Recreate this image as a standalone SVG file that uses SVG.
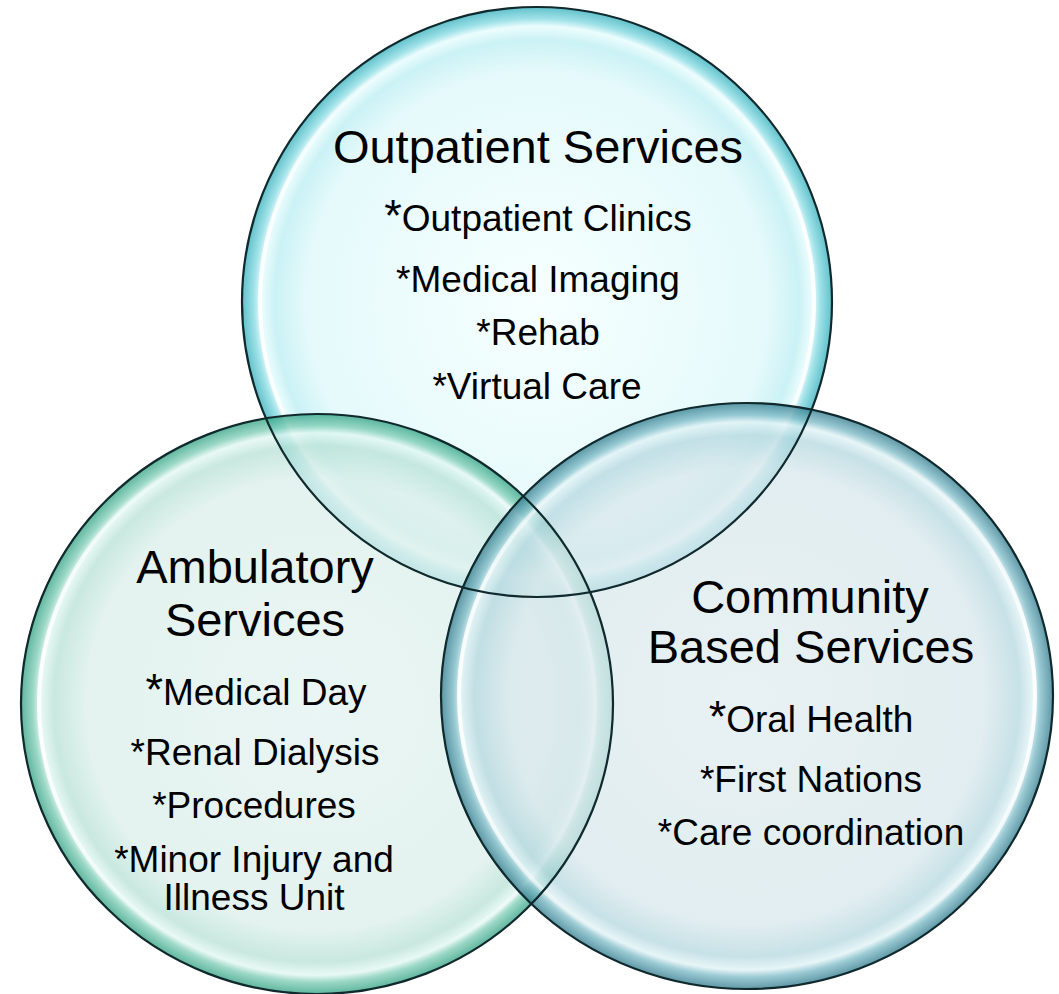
<svg xmlns="http://www.w3.org/2000/svg" width="1059" height="994" viewBox="0 0 1059 994">
  <style>
    text { font-family: "Liberation Sans", Arial, sans-serif; fill: #000; text-anchor: middle; }
    .title { font-size: 47px; }
    .item { font-size: 37px; }
    .big { font-size: 45px; }
    .disc { stroke: none; fill-opacity: 0.78; }
    .rim { fill: none; stroke: #10292d; stroke-width: 2.2; }
    .hl { fill: none; stroke: url(#hl); stroke-width: 4; }
  </style>
  <defs>
    <radialGradient id="gTop" cx="50%" cy="50%" r="50%">
      <stop offset="0" stop-color="#F4FFFF"/>
      <stop offset="0.78" stop-color="#DEF8FA"/>
      <stop offset="0.89" stop-color="#BDEEF2"/>
      <stop offset="0.935" stop-color="#E6FCFD"/>
      <stop offset="0.96" stop-color="#86DAE2"/>
      <stop offset="1" stop-color="#35AFBC"/>
    </radialGradient>
    <radialGradient id="gLeft" cx="50%" cy="50%" r="50%">
      <stop offset="0" stop-color="#E4F3F1"/>
      <stop offset="0.78" stop-color="#DCEFEB"/>
      <stop offset="0.89" stop-color="#BAE2D7"/>
      <stop offset="0.935" stop-color="#E2F7F2"/>
      <stop offset="0.96" stop-color="#80CDB6"/>
      <stop offset="1" stop-color="#33A283"/>
    </radialGradient>
    <radialGradient id="gRight" cx="50%" cy="50%" r="50%">
      <stop offset="0" stop-color="#E2EEF1"/>
      <stop offset="0.78" stop-color="#D9E8EC"/>
      <stop offset="0.89" stop-color="#B7D9E0"/>
      <stop offset="0.935" stop-color="#E0F2F5"/>
      <stop offset="0.96" stop-color="#7EBBC7"/>
      <stop offset="1" stop-color="#347C8E"/>
    </radialGradient>
    <linearGradient id="hl" x1="0" y1="0" x2="1" y2="0">
      <stop offset="0" stop-color="#FFFFFF" stop-opacity="0.9"/>
      <stop offset="0.28" stop-color="#FFFFFF" stop-opacity="0"/>
      <stop offset="0.72" stop-color="#FFFFFF" stop-opacity="0"/>
      <stop offset="1" stop-color="#FFFFFF" stop-opacity="0.9"/>
    </linearGradient>
  </defs>

  <g id="node-outpatient">
    <ellipse class="disc" cx="537" cy="302" rx="295" ry="295" fill="url(#gTop)"/>
    <ellipse class="hl" cx="537" cy="302" rx="277" ry="277"/>
  </g>
  <g id="node-ambulatory">
    <ellipse class="disc" cx="317" cy="704" rx="296" ry="290" fill="url(#gLeft)"/>
    <ellipse class="hl" cx="317" cy="704" rx="278" ry="272"/>
  </g>
  <g id="node-community">
    <ellipse class="disc" cx="747" cy="696" rx="306" ry="293" fill="url(#gRight)"/>
    <ellipse class="hl" cx="747" cy="696" rx="288" ry="275"/>
  </g>

  <g id="outlines">
    <ellipse class="rim" cx="537" cy="302" rx="295" ry="295"/>
    <ellipse class="rim" cx="317" cy="704" rx="296" ry="290"/>
    <ellipse class="rim" cx="747" cy="696" rx="306" ry="293"/>
  </g>

  <g id="connectors"></g>

  <g id="labels-outpatient">
    <text class="title" x="538" y="163">Outpatient Services</text>
    <text class="item" x="538" y="231"><tspan class="big">*</tspan>Outpatient Clinics</text>
    <text class="item" x="538" y="292">*Medical Imaging</text>
    <text class="item" x="538" y="345">*Rehab</text>
    <text class="item" x="537" y="399">*Virtual Care</text>
  </g>
  <g id="labels-ambulatory">
    <text class="title" x="255" y="583">Ambulatory</text>
    <text class="title" x="255" y="636">Services</text>
    <text class="item" x="256" y="705"><tspan class="big">*</tspan>Medical Day</text>
    <text class="item" x="255" y="765">*Renal Dialysis</text>
    <text class="item" x="254" y="818">*Procedures</text>
    <text class="item" x="254" y="872">*Minor Injury and</text>
    <text class="item" x="254" y="910">Illness Unit</text>
  </g>
  <g id="labels-community">
    <text class="title" x="810" y="613">Community</text>
    <text class="title" x="811" y="663">Based Services</text>
    <text class="item" x="811" y="732"><tspan class="big">*</tspan>Oral Health</text>
    <text class="item" x="811" y="792">*First Nations</text>
    <text class="item" x="811" y="845">*Care coordination</text>
  </g>
</svg>
